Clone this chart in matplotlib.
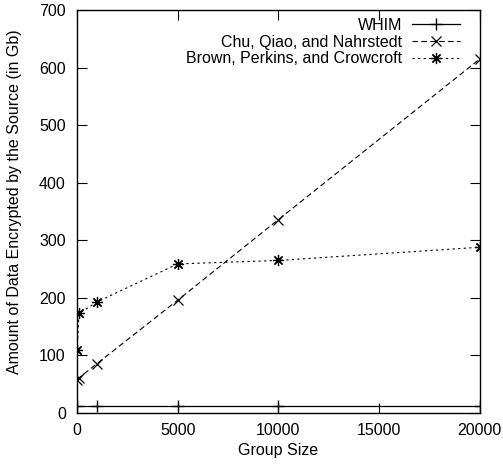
import matplotlib
matplotlib.use('Agg')
import matplotlib.pyplot as plt

plt.rcParams['font.family'] = ['Liberation Sans', 'DejaVu Sans']

# group sizes
group_size = [10, 100, 1000, 5000, 10000, 20000]
whim_size = [10, 1000, 5000, 10000, 20000]

# amount of data encrypted (Gb)
whim = [13, 13, 13, 13, 13]
chu = [58, 61, 86, 196, 336, 615]
brown = [110, 173, 193, 259, 265, 288]

fs = 11.5

fig = plt.figure(figsize=(5.03, 4.66), dpi=100)
ax = fig.add_axes([0.153, 0.1137, 0.801, 0.8648])

ax.plot(whim_size, whim, color='black', lw=0.9, marker='+', markersize=8,
        markeredgewidth=1.0, label='WHIM')
ax.plot(group_size, chu, color='black', lw=0.8, linestyle=(0, (5, 3)), marker='x',
        markersize=7, markeredgewidth=0.9, label='Chu, Qiao, and Nahrstedt')
ax.plot(group_size, brown, color='black', lw=0.8, linestyle=(0, (2, 3)), marker=(8, 2, 0),
        markersize=8, markeredgewidth=0.9, label='Brown, Perkins, and Crowcroft')

ax.set_xlim(0, 20000)
ax.set_ylim(0, 700)
ax.set_xticks([0, 5000, 10000, 15000, 20000])
ax.set_yticks(range(0, 701, 100))
ax.tick_params(direction='in', length=7, width=0.8, top=True, right=True, labelsize=fs)
ax.tick_params(axis='y', pad=8)
ax.tick_params(axis='x', pad=7)
for s in ax.spines.values():
    s.set_linewidth(1.0)

ax.set_xlabel('Group Size', fontsize=fs, labelpad=4)
ax.set_ylabel('Amount of Data Encrypted by the Source (in Gb)', fontsize=fs)
ax.yaxis.set_label_coords(-0.136, 0.524)

ax.legend(loc='upper right', bbox_to_anchor=(0.978, 1.008), frameon=False,
          markerfirst=False, fontsize=fs, handlelength=3.0, handletextpad=0.6,
          labelspacing=0.1, borderaxespad=0.5, borderpad=0.2)

fig.savefig('out.png', dpi=100)
